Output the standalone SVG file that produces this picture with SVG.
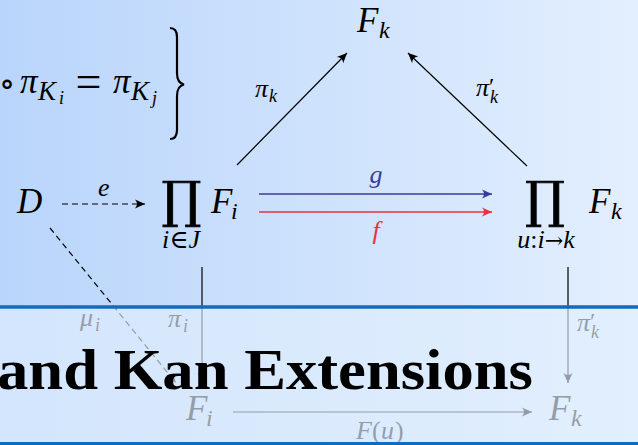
<svg xmlns="http://www.w3.org/2000/svg" width="638" height="445" viewBox="0 0 638 445">
<defs>
<linearGradient id="bg" x1="0" y1="0" x2="1" y2="0">
<stop offset="0" stop-color="#b9d5fb"/>
<stop offset="1" stop-color="#e3effe"/>
</linearGradient>
<marker id="ah" viewBox="-11 -6 12 12" refX="0" refY="0" markerWidth="12" markerHeight="12" markerUnits="userSpaceOnUse" orient="auto">
<path d="M0,0 L-10,-4.5 Q-6,0 -10,4.5 Z" fill="#000"/>
</marker>
<marker id="ahb" viewBox="-11 -6 12 12" refX="0" refY="0" markerWidth="12" markerHeight="12" markerUnits="userSpaceOnUse" orient="auto">
<path d="M0,0 L-10,-4.5 Q-6,0 -10,4.5 Z" fill="#3a3a9e"/>
</marker>
<marker id="ahr" viewBox="-11 -6 12 12" refX="0" refY="0" markerWidth="12" markerHeight="12" markerUnits="userSpaceOnUse" orient="auto">
<path d="M0,0 L-10,-4.5 Q-6,0 -10,4.5 Z" fill="#e8313c"/>
</marker>
</defs>
<style>
.m{font-family:"Liberation Serif","DejaVu Serif",serif;font-style:italic;fill:#000}
.r{font-family:"Liberation Serif","DejaVu Serif",serif;fill:#000}
.big{font-size:35px}
.sub{font-size:24px}
.lab{font-size:26px}
.lsub{font-size:18px}
.ss{font-size:18px}
.pr{font-size:24px}
.ln{stroke:#000;stroke-width:1.2;fill:none}
.dash{stroke-dasharray:6,4}
.prod{font-family:"DejaVu Serif",serif;font-size:50px;fill:#000;stroke:#000;stroke-width:0.8}
</style>
<rect x="0" y="0" width="638" height="445" fill="url(#bg)"/>

<g id="formula">
<text class="r" x="7" y="95" font-size="34" text-anchor="middle" font-family="DejaVu Sans">∘</text>
<text class="m big" x="20" y="93">π</text>
<text class="m" x="38" y="100" font-size="27">K</text>
<text class="m ss" x="59" y="104">i</text>
<text class="r" x="88.5" y="97" font-size="46" text-anchor="middle">=</text>
<text class="m big" x="113" y="93">π</text>
<text class="m" x="131" y="100" font-size="27">K</text>
<text class="m ss" x="152" y="104">j</text>
<path d="M170,28 Q177,28 177,37 L177,73 Q177,83 184,84.5 Q177,86 177,96 L177,130 Q177,139 170,139" fill="none" stroke="#000" stroke-width="2.2"/>
</g>

<g id="connectors">
<line class="ln" x1="237" y1="165" x2="347" y2="53" marker-end="url(#ah)"/>
<line class="ln" x1="527" y1="166" x2="408" y2="53" marker-end="url(#ah)"/>
<line class="ln dash" x1="62" y1="204" x2="145" y2="204" marker-end="url(#ah)"/>
<line x1="259" y1="194" x2="492" y2="194" stroke="#3a3a9e" stroke-width="1.4" marker-end="url(#ahb)"/>
<line x1="259" y1="212" x2="492" y2="212" stroke="#e8313c" stroke-width="1.4" marker-end="url(#ahr)"/>
<line class="ln" x1="202" y1="267" x2="202" y2="383" marker-end="url(#ah)"/>
<line class="ln" x1="568" y1="267" x2="568" y2="383" marker-end="url(#ah)"/>
<line class="ln dash" x1="50" y1="228" x2="176" y2="383" marker-end="url(#ah)"/>
<line class="ln" x1="233" y1="412" x2="532" y2="412" marker-end="url(#ah)"/>
</g>

<g id="labels">
<text class="m lab" x="255" y="97">π</text>
<text class="m lsub" x="269" y="102">k</text>
<text class="m lab" x="476" y="96">π</text>
<text class="r pr" x="489" y="94">′</text>
<text class="m lsub" x="490" y="103">k</text>
<text class="m lab" x="98" y="196">e</text>
<text class="m lab" x="376" y="183" text-anchor="middle" style="fill:#3a3a9e">g</text>
<text class="m lab" x="376" y="239" text-anchor="middle" style="fill:#e8313c">f</text>
<text class="m lab" x="80" y="326">μ</text>
<text class="m lsub" x="95" y="331">i</text>
<text class="m lab" x="168" y="327">π</text>
<text class="m lsub" x="183" y="332">i</text>
<text class="m lab" x="577" y="331">π</text>
<text class="r pr" x="590" y="329">′</text>
<text class="m lsub" x="591" y="338">k</text>
<text class="m lab" x="356" y="439">F</text>
<text class="r lab" x="372" y="439">(</text>
<text class="m lab" x="381" y="439">u</text>
<text class="r lab" x="395" y="439">)</text>
</g>

<g id="n-Fk-top">
<text class="m big" x="357" y="32">F</text>
<text class="m sub" x="379" y="38">k</text>
</g>
<g id="n-D">
<text class="m big" x="17" y="213">D</text>
</g>
<g id="n-prod-Fi">
<text class="prod" x="181.5" y="217" text-anchor="middle">∏</text>
<text class="m" x="181" y="248" font-size="26" text-anchor="middle">i<tspan font-style="normal">∈</tspan>J</text>
<text class="m big" x="211" y="213">F</text>
<text class="m sub" x="231" y="219">i</text>
</g>
<g id="n-prod-Fk">
<text class="prod" x="545" y="217" text-anchor="middle">∏</text>
<text class="m" x="546" y="248" font-size="26" text-anchor="middle">u<tspan font-style="normal">:</tspan>i<tspan font-style="normal" font-family="DejaVu Serif" font-size="22">→</tspan>k</text>
<text class="m big" x="589" y="213">F</text>
<text class="m sub" x="611" y="219">k</text>
</g>
<g id="n-Fi-bot">
<text class="m big" x="186" y="420">F</text>
<text class="m sub" x="206" y="426">i</text>
</g>
<g id="n-Fk-bot">
<text class="m big" x="549" y="420">F</text>
<text class="m sub" x="571" y="426">k</text>
</g>

<g id="band">
<rect x="0" y="307" width="638" height="138" fill="#e0eefd" fill-opacity="0.66"/>
<line x1="0" y1="307" x2="638" y2="307" stroke="#0f6cbf" stroke-width="3.5"/>
<line x1="0" y1="443.5" x2="638" y2="443.5" stroke="#0f6cbf" stroke-width="3"/>
<text x="-3" y="389" font-family="Liberation Serif" font-weight="bold" font-size="58" textLength="536" lengthAdjust="spacingAndGlyphs" fill="#000">and Kan Extensions</text>
</g>
</svg>
